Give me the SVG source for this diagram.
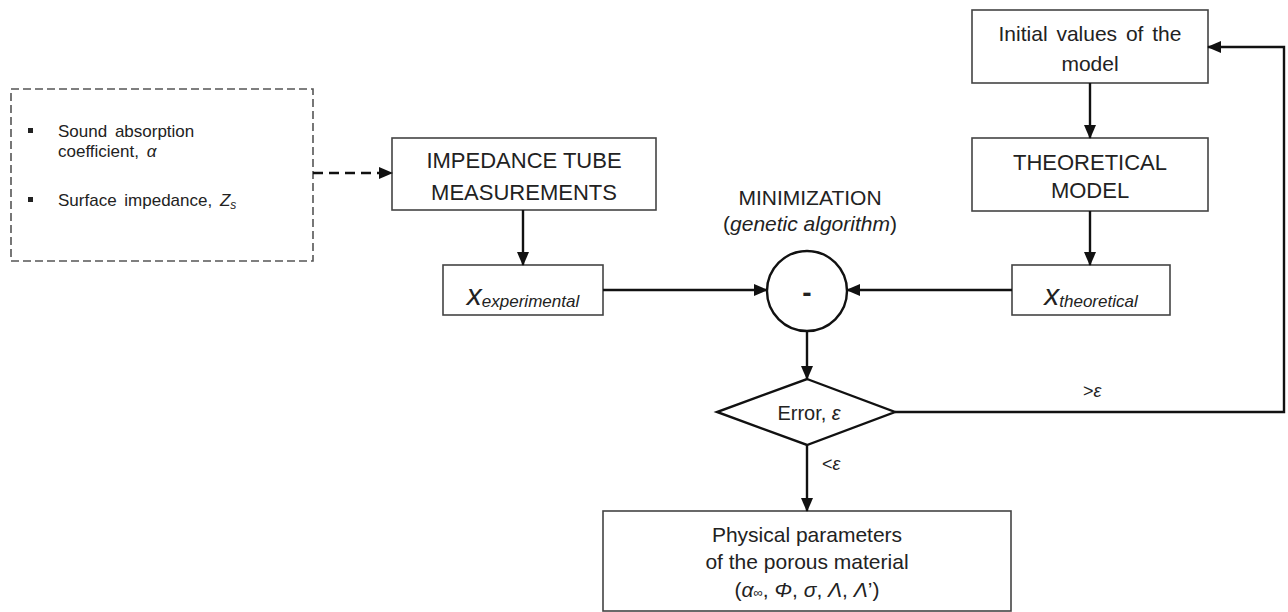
<svg xmlns="http://www.w3.org/2000/svg" width="1288" height="612" viewBox="0 0 1288 612">
<defs>
<marker id="ah" markerUnits="userSpaceOnUse" markerWidth="14" markerHeight="12" refX="13" refY="6" orient="auto">
<path d="M0,0 L14,6 L0,12 z" fill="#111"/>
</marker>
<style>
.box{fill:#fff;stroke:#444;stroke-width:1.6}
.t{font-family:"Liberation Sans",Arial,sans-serif;fill:#222}
.c{text-anchor:middle}
.ln{fill:none;stroke:#111;stroke-width:2.4}
.i{font-style:italic}
</style>
</defs>
<rect width="1288" height="612" fill="#fff"/>

<g id="inputs">
<rect x="11" y="89" width="302" height="172" fill="#fff" stroke="#555" stroke-width="1.6" stroke-dasharray="8 4"/>
<rect x="28" y="128" width="5" height="5" fill="#222"/>
<text class="t" x="58" y="137" font-size="17" word-spacing="3">Sound absorption</text>
<text class="t" x="58" y="157" font-size="17" word-spacing="3">coefficient, <tspan class="i">α</tspan></text>
<rect x="28" y="197" width="5" height="5" fill="#222"/>
<text class="t" x="58" y="206" font-size="17" word-spacing="3">Surface impedance, <tspan class="i">Z</tspan><tspan class="i" font-size="12" dy="3">s</tspan></text>
</g>

<g id="impedance">
<rect class="box" x="392" y="138" width="264" height="72"/>
<text class="t c" x="524" y="168" font-size="22">IMPEDANCE TUBE</text>
<text class="t c" x="524" y="200" font-size="22">MEASUREMENTS</text>
</g>

<g id="xexp">
<rect class="box" x="443" y="265" width="160" height="50"/>
<text class="t c" x="523" y="305"><tspan class="i" font-size="30">x</tspan><tspan class="i" font-size="17" dy="2">experimental</tspan></text>
</g>

<g id="initial">
<rect class="box" x="972" y="10" width="236" height="73"/>
<text class="t c" x="1090" y="41" font-size="21" word-spacing="3">Initial values of the</text>
<text class="t c" x="1090" y="71" font-size="21">model</text>
</g>

<g id="theoretical">
<rect class="box" x="972" y="138" width="236" height="73"/>
<text class="t c" x="1090" y="170" font-size="22">THEORETICAL</text>
<text class="t c" x="1090" y="198" font-size="22">MODEL</text>
</g>

<g id="xtheo">
<rect class="box" x="1012" y="265" width="158" height="50"/>
<text class="t c" x="1091" y="305"><tspan class="i" font-size="30">x</tspan><tspan class="i" font-size="17" dy="2">theoretical</tspan></text>
</g>

<g id="minimization">
<text class="t c" x="810" y="205" font-size="21">MINIMIZATION</text>
<text class="t c" x="810" y="231" font-size="21">(<tspan class="i">genetic algorithm</tspan>)</text>
<circle cx="807" cy="291" r="40" fill="#fff" stroke="#111" stroke-width="2.4"/>
<text class="t c" x="807" y="302" font-size="28" font-weight="bold">-</text>
</g>

<g id="error">
<polygon points="807,379 895,412 807,445 717,412" fill="#fff" stroke="#111" stroke-width="2.4"/>
<text class="t c" x="809" y="420" font-size="20">Error, <tspan class="i">ε</tspan></text>
</g>

<g id="physical">
<rect class="box" x="603" y="511" width="408" height="100"/>
<text class="t c" x="807" y="542" font-size="21">Physical parameters</text>
<text class="t c" x="807" y="569" font-size="21">of the porous material</text>
<text class="t c" x="807" y="597" font-size="21">(<tspan class="i">α</tspan><tspan font-size="13">∞</tspan>, <tspan class="i">Φ</tspan>, <tspan class="i">σ</tspan>, <tspan class="i">Λ</tspan>, <tspan class="i">Λ</tspan>’)</text>
</g>

<g id="connectors">
<line class="ln" x1="313" y1="173" x2="392" y2="173" stroke-dasharray="10 6" marker-end="url(#ah)"/>
<line class="ln" x1="523" y1="210" x2="523" y2="265" marker-end="url(#ah)"/>
<line class="ln" x1="603" y1="290" x2="767" y2="290" marker-end="url(#ah)"/>
<line class="ln" x1="1012" y1="290" x2="847" y2="290" marker-end="url(#ah)"/>
<line class="ln" x1="1090" y1="83" x2="1090" y2="138" marker-end="url(#ah)"/>
<line class="ln" x1="1090" y1="211" x2="1090" y2="265" marker-end="url(#ah)"/>
<line class="ln" x1="807" y1="331" x2="807" y2="379" marker-end="url(#ah)"/>
<polyline class="ln" points="895,412 1284,412 1284,47 1208,47" marker-end="url(#ah)"/>
<line class="ln" x1="807" y1="445" x2="807" y2="511" marker-end="url(#ah)"/>
<text class="t" x="1083" y="397" font-size="18">&gt;<tspan class="i">ε</tspan></text>
<text class="t" x="822" y="470" font-size="18">&lt;<tspan class="i">ε</tspan></text>
</g>
</svg>
